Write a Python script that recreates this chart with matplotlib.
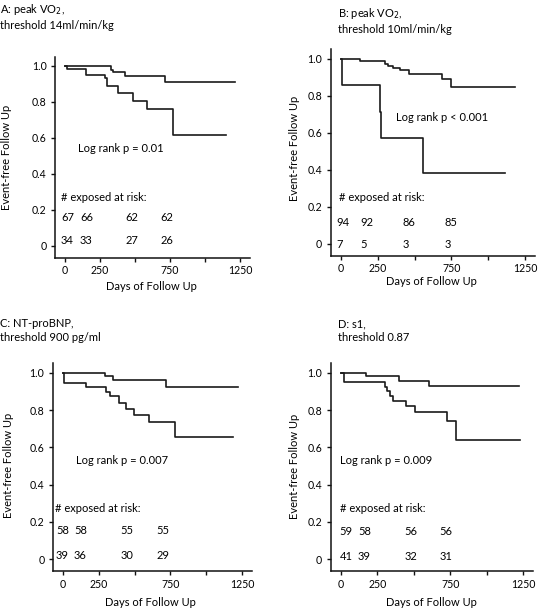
import matplotlib
matplotlib.use("Agg")
import matplotlib.pyplot as plt

plt.rcParams['font.family'] = ['Lato', 'DejaVu Sans']

W, H = 538, 611

# ---------------- data ----------------
titles = ["A: peak VO$_2$,\nthreshold 14ml/min/kg",
          "B: peak VO$_2$,\nthreshold 10ml/min/kg",
          "C: NT-proBNP,\nthreshold 900 pg/ml",
          "D: s1,\nthreshold 0.87"]
logrank = ["Log rank p = 0.01", "Log rank p < 0.001",
           "Log rank p = 0.007", "Log rank p = 0.009"]

# Panel A
A_hi_t = [0, 329, 345, 429, 714, 1214]
A_hi_s = [1.0, 0.978, 0.963, 0.943, 0.91, 0.91]
A_lo_t = [0, 12, 148, 286, 298, 381, 488, 583, 774, 1148]
A_lo_s = [1.0, 0.981, 0.95, 0.931, 0.889, 0.846, 0.806, 0.759, 0.615, 0.615]
A_risk_hi = [67, 66, 62, 62]
A_risk_lo = [34, 33, 27, 26]

# Panel B
B_hi_t = [0, 129, 299, 321, 355, 401, 462, 684, 745, 1182]
B_hi_s = [1.0, 0.986, 0.973, 0.960, 0.95, 0.937, 0.919, 0.892, 0.845, 0.845]
B_lo_t = [0, 5, 262, 270, 555, 1114]
B_lo_s = [1.0, 0.857, 0.714, 0.571, 0.381, 0.381]
B_risk_hi = [94, 92, 86, 85]
B_risk_lo = [7, 5, 3, 3]

# Panel C
C_hi_t = [0, 296, 349, 721, 1222]
C_hi_s = [1.0, 0.984, 0.961, 0.922, 0.922]
C_lo_t = [0, 8, 158, 303, 331, 391, 438, 496, 598, 780, 1187]
C_lo_s = [1.0, 0.946, 0.921, 0.898, 0.875, 0.839, 0.803, 0.773, 0.737, 0.657, 0.657]
C_risk_hi = [58, 58, 55, 55]
C_risk_lo = [39, 36, 30, 29]

# Panel D
D_hi_t = [0, 170, 401, 604, 1225]
D_hi_s = [1.0, 0.982, 0.955, 0.929, 0.929]
D_lo_t = [0, 20, 302, 318, 337, 359, 446, 508, 726, 787, 1229]
D_lo_s = [1.0, 0.952, 0.925, 0.904, 0.875, 0.85, 0.821, 0.791, 0.743, 0.639, 0.639]
D_risk_hi = [59, 58, 56, 56]
D_risk_lo = [41, 39, 32, 31]

x_ticks = [0, 250, 500, 750, 1000, 1250]
x_ticklabels = ["0", "250", "", "750", "", "1250"]
y_ticks = [0, 0.2, 0.4, 0.6, 0.8, 1.0]
y_ticklabels = ["0", "0.2", "0.4", "0.6", "0.8", "1.0"]

panels = [
    dict(hi=(A_hi_t, A_hi_s), lo=(A_lo_t, A_lo_s), risk=(A_risk_hi, A_risk_lo)),
    dict(hi=(B_hi_t, B_hi_s), lo=(B_lo_t, B_lo_s), risk=(B_risk_hi, B_risk_lo)),
    dict(hi=(C_hi_t, C_hi_s), lo=(C_lo_t, C_lo_s), risk=(C_risk_hi, C_risk_lo)),
    dict(hi=(D_hi_t, D_hi_s), lo=(D_lo_t, D_lo_s), risk=(D_risk_hi, D_risk_lo)),
]

# ---------------- layout (pixels) ----------------
XLIM = (-70, 1320)
YLIM = (-0.065, 1.05)
# px of x=0, px of x=1250, py of y=1, py of y=0
geom = [(65, 240, 65.7, 246), (341, 525, 58.7, 243.7),
        (63, 242, 372.7, 559.3), (341, 523, 372.7, 559.3)]
title_pos = [(0, 2), (338, 6), (0, 318), (338, 318)]
ylabel_px = [(7, 157), (295, 148), (8.5, 465), (295, 466)]
xlabel_px = [(151.7, 286.7), (431, 281.5), (150, 603), (431, 603)]
# text positions (data coords): logrank(x,y), risk header (x,y), row ys, col xs
lr_pos = [(93, 0.539), (372, 0.683), (91, 0.532), (-9, 0.527)]
hdr_pos = [(-29, 0.268), (-14, 0.25), (-56, 0.27), (-9, 0.27)]
row_y = [(0.16, 0.03), (0.114, -0.007), (0.153, 0.019), (0.148, 0.014)]
col_x = [(-29, 107, 429, 679), (-32, 134, 421, 704),
         (-49, 77, 403, 654), (-9, 117, 437, 678)]

FS = 7.6
FT = 8.0
fig = plt.figure(figsize=(W / 100, H / 100), dpi=100)

for i, p in enumerate(panels):
    px0, px1, py1, py0 = geom[i]
    sx = (px1 - px0) / 1250.0
    sy = (py0 - py1)
    lpx = px0 + XLIM[0] * sx
    rpx = px0 + XLIM[1] * sx
    bpx = py0 - YLIM[0] * sy
    tpx = py0 - YLIM[1] * sy
    ax = fig.add_axes([lpx / W, 1 - bpx / H, (rpx - lpx) / W, (bpx - tpx) / H])
    ax.set_xlim(*XLIM)
    ax.set_ylim(*YLIM)
    for s in ("top", "right"):
        ax.spines[s].set_visible(False)
    for s in ("left", "bottom"):
        ax.spines[s].set_linewidth(1.1)
        ax.spines[s].set_color("#111111")
    ax.set_xticks(x_ticks)
    ax.set_xticklabels(x_ticklabels, fontsize=FS)
    ax.set_yticks(y_ticks)
    ax.set_yticklabels(y_ticklabels, fontsize=FS)
    ax.tick_params(direction="out", length=3.2, width=1.0, color="#111111", pad=3)
    ax.tick_params(axis="x", pad=2.2)

    ax.set_xlabel("Days of Follow Up", fontsize=FT)
    ax.set_ylabel("Event-free Follow Up", fontsize=FT)
    xlx, xly = xlabel_px[i]
    ylx, yly = ylabel_px[i]
    ax.xaxis.set_label_coords((xlx - lpx) / (rpx - lpx), (bpx - xly) / (bpx - tpx))
    ax.xaxis.label.set_va("center")
    ax.yaxis.set_label_coords((ylx - lpx) / (rpx - lpx), (bpx - yly) / (bpx - tpx))
    ax.yaxis.label.set_va("center")

    t, s = p["hi"]
    ax.step(t, s, where="post", color="#1a1a1a", lw=1.2)
    t, s = p["lo"]
    ax.step(t, s, where="post", color="#1a1a1a", lw=1.2)

    ax.text(lr_pos[i][0], lr_pos[i][1], logrank[i], fontsize=FT,
            ha="left", va="center")
    ax.text(hdr_pos[i][0], hdr_pos[i][1], "# exposed at risk:", fontsize=FT,
            ha="left", va="center")
    hi_r, lo_r = p["risk"]
    for xv, v in zip(col_x[i], hi_r):
        ax.text(xv, row_y[i][0], str(v), fontsize=FT, ha="left", va="center")
    for xv, v in zip(col_x[i], lo_r):
        ax.text(xv, row_y[i][1], str(v), fontsize=FT, ha="left", va="center")

    tx, ty = title_pos[i]
    fig.text(tx / W, 1 - ty / H, titles[i], fontsize=FT, ha="left", va="top",
             linespacing=1.35)

fig.savefig("out.png", dpi=100)
